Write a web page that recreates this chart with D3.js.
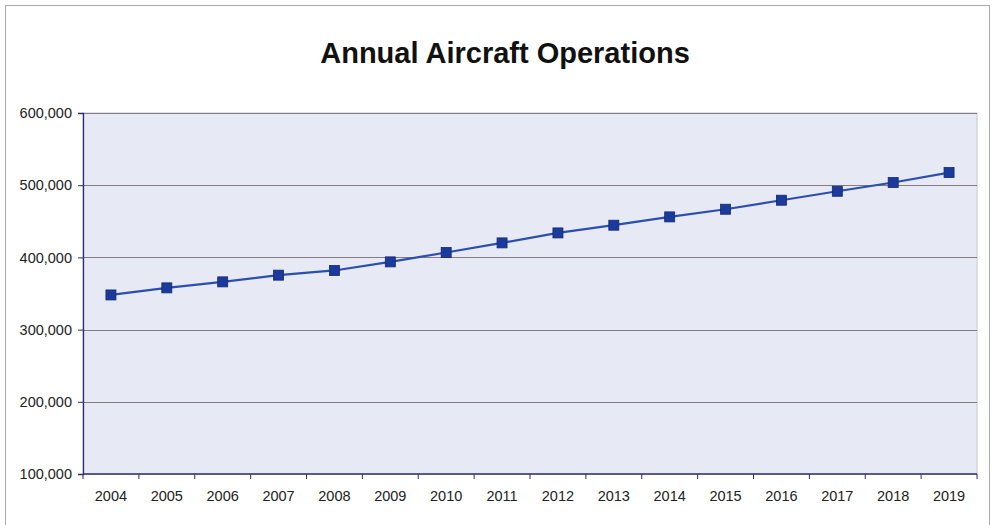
<!DOCTYPE html>
<html>
<head>
<meta charset="utf-8">
<script src="https://cdn.jsdelivr.net/npm/d3@7"></script>
<style>
  body { margin: 0; background: #fff; }
  text { font-family: "Liberation Sans", Arial, sans-serif; }
</style>
</head>
<body>
<div id="chart"></div>
<script>
// data
var years = ["2004","2005","2006","2007","2008","2009","2010","2011","2012","2013","2014","2015","2016","2017","2018","2019"];
var operations = [348000, 357800, 366100, 375400, 381900, 393800, 406800, 420100, 433900, 444600, 456100, 466700, 479200, 491600, 503700, 517500];
var yTicks = [100000, 200000, 300000, 400000, 500000, 600000];

var svgWidth = 994, svgHeight = 525;
var margin = { top: 113, right: 17, bottom: 51, left: 83 };
var w = svgWidth - margin.left - margin.right;
var h = svgHeight - margin.top - margin.bottom;

var svg = d3.select("#chart").append("svg")
    .attr("width", svgWidth)
    .attr("height", svgHeight);

// outer frame
svg.append("rect")
    .attr("x", 5.5).attr("y", 5.5)
    .attr("width", 984).attr("height", 530)
    .attr("fill", "none")
    .attr("stroke", "#a9a9b0")
    .attr("stroke-width", 1);

// title
svg.append("text")
    .attr("x", 505).attr("y", 63)
    .attr("text-anchor", "middle")
    .attr("font-size", "29px")
    .attr("font-weight", "bold")
    .attr("fill", "#111")
    .text("Annual Aircraft Operations");

var chart = svg.append("g")
    .attr("transform", "translate(" + margin.left + "," + margin.top + ")");

var x = d3.scaleBand().domain(years).range([0, w]);
var y = d3.scaleLinear().domain([100000, 600000]).range([h, 0]);

// plot background
chart.append("rect")
    .attr("width", w).attr("height", h)
    .attr("fill", "#e7e9f4")
    .attr("stroke", "#c4c6d4");

// gridlines
chart.selectAll(".grid")
    .data(yTicks.slice(1))
    .enter().append("line")
    .attr("x1", 0).attr("x2", w)
    .attr("y1", d => Math.round(y(d)) + 0.5)
    .attr("y2", d => Math.round(y(d)) + 0.5)
    .attr("stroke", "#857b80")
    .attr("stroke-width", 1.2);

// y axis
var yAxis = d3.axisLeft(y)
    .tickValues(yTicks)
    .tickSize(5)
    .tickPadding(6)
    .tickFormat(d3.format(","));
var gy = chart.append("g").call(yAxis);
gy.select(".domain").attr("stroke", "#2c2f6e").attr("stroke-width", 1.3);
gy.selectAll(".tick line").attr("stroke", "#2c2f6e");
gy.selectAll("text").attr("font-size", "14.5px").attr("fill", "#222");

// x axis (ticks on band edges)
var gx = chart.append("g").attr("transform", "translate(0," + h + ")");
gx.append("line")
    .attr("x1", 0).attr("x2", w)
    .attr("stroke", "#2c2f6e").attr("stroke-width", 1.3);
gx.selectAll(".xtick")
    .data(years.concat(["end"]))
    .enter().append("line")
    .attr("x1", (d, i) => i * x.step())
    .attr("x2", (d, i) => i * x.step())
    .attr("y1", 0).attr("y2", 5)
    .attr("stroke", "#2c2f6e");
gx.selectAll(".xlabel")
    .data(years)
    .enter().append("text")
    .attr("x", d => x(d) + x.bandwidth() / 2)
    .attr("y", 27)
    .attr("text-anchor", "middle")
    .attr("font-size", "14.5px")
    .attr("fill", "#222")
    .text(d => d);

// line
var line = d3.line()
    .x((d, i) => x(years[i]) + x.bandwidth() / 2)
    .y(d => y(d));

chart.append("path")
    .datum(operations)
    .attr("d", line)
    .attr("fill", "none")
    .attr("stroke", "#2b4fae")
    .attr("stroke-width", 2.2);

// square markers
chart.selectAll(".marker")
    .data(operations)
    .enter().append("rect")
    .attr("x", (d, i) => x(years[i]) + x.bandwidth() / 2 - 5)
    .attr("y", d => y(d) - 5)
    .attr("width", 10).attr("height", 10)
    .attr("fill", "#1b3a9e")
    .attr("stroke", "#14286e")
    .attr("stroke-width", 0.8);
</script>
</body>
</html>
